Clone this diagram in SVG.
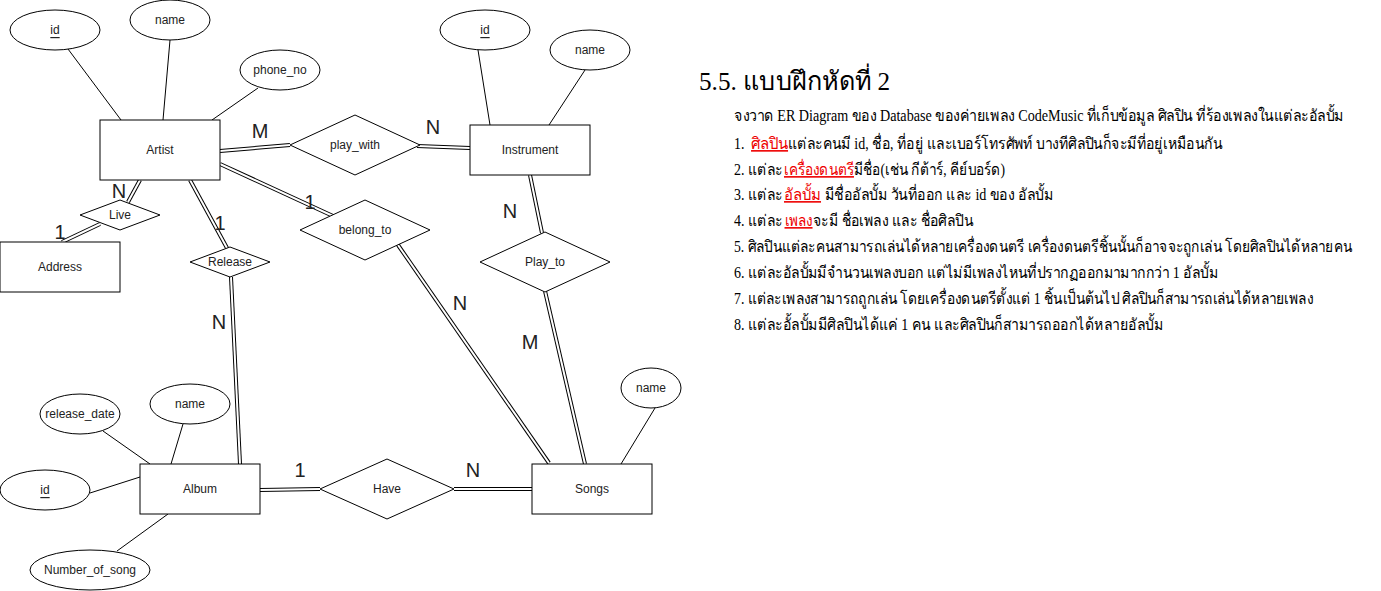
<svg xmlns="http://www.w3.org/2000/svg" width="1381" height="591" viewBox="0 0 1381 591">
<style>
.box{fill:#fff;stroke:#000;stroke-width:1}
.lbl{font-family:"Liberation Sans",Arial,sans-serif;font-size:12px;fill:#222;text-anchor:middle;dominant-baseline:central}
.u{text-decoration:underline}
.card{font-family:"Liberation Sans",Arial,sans-serif;font-size:20px;fill:#222;text-anchor:middle;dominant-baseline:central}
.att{stroke:#000;stroke-width:1;fill:none}
.lk{stroke:#000;stroke-width:4;fill:none}
.lk2{stroke:#fff;stroke-width:2;fill:none}
.th{font-family:"Liberation Serif","Times New Roman",serif;fill:#000}
.body{font-size:16px}
.red{fill:#e00;text-decoration:underline}
</style>
<rect width="1381" height="591" fill="#fff"/>
<g id="connectors">
  <line class="att" x1="68" y1="49" x2="121" y2="120"/>
  <line class="att" x1="170" y1="40" x2="163" y2="120"/>
  <line class="att" x1="258" y1="88" x2="212" y2="120"/>
  <line class="att" x1="478" y1="50" x2="490" y2="125"/>
  <line class="att" x1="585" y1="70" x2="549" y2="125"/>
  <line class="att" x1="103" y1="431" x2="150" y2="464"/>
  <line class="att" x1="183" y1="424" x2="171" y2="464"/>
  <line class="att" x1="90" y1="493" x2="140" y2="477"/>
  <line class="att" x1="117" y1="551" x2="168" y2="514"/>
  <line class="att" x1="655" y1="408" x2="621" y2="464"/>
  <g id="e-artist-live"><line class="lk" x1="140" y1="180" x2="128" y2="202"/><line class="lk2" x1="140" y1="180" x2="128" y2="202"/></g>
  <g id="e-live-address"><line class="lk" x1="100" y1="224" x2="62" y2="242"/><line class="lk2" x1="100" y1="224" x2="62" y2="242"/></g>
  <g id="e-artist-release"><line class="lk" x1="190" y1="180" x2="227" y2="248"/><line class="lk2" x1="190" y1="180" x2="227" y2="248"/></g>
  <g id="e-release-album"><line class="lk" x1="231" y1="277" x2="240" y2="464"/><line class="lk2" x1="231" y1="277" x2="240" y2="464"/></g>
  <g id="e-artist-playwith"><line class="lk" x1="220" y1="151" x2="290" y2="145"/><line class="lk2" x1="220" y1="151" x2="290" y2="145"/></g>
  <g id="e-playwith-instrument"><line class="lk" x1="417" y1="146" x2="470" y2="148"/><line class="lk2" x1="417" y1="146" x2="470" y2="148"/></g>
  <g id="e-artist-belong"><line class="lk" x1="220" y1="164" x2="333" y2="216"/><line class="lk2" x1="220" y1="164" x2="333" y2="216"/></g>
  <g id="e-belong-songs"><line class="lk" x1="398" y1="245" x2="549" y2="463"/><line class="lk2" x1="398" y1="245" x2="549" y2="463"/></g>
  <g id="e-instrument-playto"><line class="lk" x1="530" y1="175" x2="542" y2="233"/><line class="lk2" x1="530" y1="175" x2="542" y2="233"/></g>
  <g id="e-playto-songs"><line class="lk" x1="545" y1="291" x2="585" y2="464"/><line class="lk2" x1="545" y1="291" x2="585" y2="464"/></g>
  <g id="e-album-have"><line class="lk" x1="260" y1="490" x2="320" y2="489"/><line class="lk2" x1="260" y1="490" x2="320" y2="489"/></g>
  <g id="e-have-songs"><line class="lk" x1="454" y1="489" x2="532" y2="489"/><line class="lk2" x1="454" y1="489" x2="532" y2="489"/></g>
  <text class="card" x="260" y="131">M</text>
  <text class="card" x="433" y="127">N</text>
  <text class="card" x="119" y="191">N</text>
  <text class="card" x="60" y="232">1</text>
  <text class="card" x="220" y="223">1</text>
  <text class="card" x="219" y="322">N</text>
  <text class="card" x="310" y="202">1</text>
  <text class="card" x="460" y="303">N</text>
  <text class="card" x="510" y="211">N</text>
  <text class="card" x="530" y="342">M</text>
  <text class="card" x="300" y="470">1</text>
  <text class="card" x="473" y="470">N</text>
</g>
<g id="artist-id"><ellipse class="box" cx="55" cy="30" rx="45" ry="20"/><text class="lbl u" x="55" y="30">id</text></g>
<g id="artist-name"><ellipse class="box" cx="170" cy="20" rx="40" ry="20"/><text class="lbl" x="170" y="20">name</text></g>
<g id="artist-phone"><ellipse class="box" cx="280" cy="70" rx="40" ry="20"/><text class="lbl" x="280" y="70">phone_no</text></g>
<g id="artist"><rect class="box" x="100" y="120" width="120" height="60"/><text class="lbl" x="160" y="150">Artist</text></g>
<g id="live"><polygon class="box" points="120,200 160,215 120,230 80,215"/><text class="lbl" x="120" y="215">Live</text></g>
<g id="address"><rect class="box" x="0" y="242" width="120" height="50"/><text class="lbl" x="60" y="267">Address</text></g>
<g id="release"><polygon class="box" points="230,247 270,262 230,277 190,262"/><text class="lbl" x="230" y="262">Release</text></g>
<g id="play_with"><polygon class="box" points="355,115 420,145 355,175 290,145"/><text class="lbl" x="355" y="145">play_with</text></g>
<g id="belong_to"><polygon class="box" points="365,200 430,230 365,260 300,230"/><text class="lbl" x="365" y="230">belong_to</text></g>
<g id="instrument-id"><ellipse class="box" cx="485" cy="30" rx="45" ry="20"/><text class="lbl u" x="485" y="30">id</text></g>
<g id="instrument-name"><ellipse class="box" cx="590" cy="50" rx="40" ry="20"/><text class="lbl" x="590" y="50">name</text></g>
<g id="instrument"><rect class="box" x="470" y="125" width="120" height="50"/><text class="lbl" x="530" y="150">Instrument</text></g>
<g id="play_to"><polygon class="box" points="545,232 610,262 545,292 480,262"/><text class="lbl" x="545" y="262">Play_to</text></g>
<g id="album-release_date"><ellipse class="box" cx="80" cy="414" rx="40" ry="20"/><text class="lbl" x="80" y="414">release_date</text></g>
<g id="album-name"><ellipse class="box" cx="190" cy="404" rx="40" ry="20"/><text class="lbl" x="190" y="404">name</text></g>
<g id="album-id"><ellipse class="box" cx="45" cy="490" rx="45" ry="20"/><text class="lbl u" x="45" y="490">id</text></g>
<g id="album-number_of_song"><ellipse class="box" cx="90" cy="570" rx="60" ry="20"/><text class="lbl" x="90" y="570">Number_of_song</text></g>
<g id="album"><rect class="box" x="140" y="464" width="120" height="50"/><text class="lbl" x="200" y="489">Album</text></g>
<g id="have"><polygon class="box" points="387,459 454,489 387,519 320,489"/><text class="lbl" x="387" y="489">Have</text></g>
<g id="songs-name"><ellipse class="box" cx="651" cy="388" rx="30" ry="20"/><text class="lbl" x="651" y="388">name</text></g>
<g id="songs"><rect class="box" x="532" y="464" width="120" height="50"/><text class="lbl" x="592" y="489">Songs</text></g>
<g id="exercise">
  <text class="th" transform="translate(699,90) scale(0.91,1)" x="0" y="0" font-size="26" textLength="210" lengthAdjust="spacingAndGlyphs">5.5. แบบฝึกหัดที่ 2</text>
  <g transform="translate(734,0) scale(0.865,1)">
    <text class="th body" x="0" y="121" textLength="705" lengthAdjust="spacingAndGlyphs">จงวาด ER Diagram ของ Database ของค่ายเพลง CodeMusic ที่เก็บข้อมูล ศิลปิน ที่ร้องเพลงในแต่ละอัลบั้ม</text>
    <text class="th body" x="0" y="149">1.</text>
    <text class="th body red" x="19.7" y="149" textLength="42.8" lengthAdjust="spacingAndGlyphs">ศิลปิน</text>
    <text class="th body" x="62.4" y="149" textLength="501.7" lengthAdjust="spacingAndGlyphs">แต่ละคนมี id, ชื่อ, ที่อยู่ และเบอร์โทรศัพท์ บางทีศิลปินก็จะมีที่อยู่เหมือนกัน</text>
    <text class="th body" x="0" y="175" textLength="56" lengthAdjust="spacingAndGlyphs">2. แต่ละ</text>
    <text class="th body red" x="57.8" y="175" textLength="80.9" lengthAdjust="spacingAndGlyphs">เครื่องดนตรี</text>
    <text class="th body" x="138.7" y="175" textLength="174.6" lengthAdjust="spacingAndGlyphs">มีชื่อ(เช่น กีต้าร์, คีย์บอร์ด)</text>
    <text class="th body" x="0" y="200" textLength="56" lengthAdjust="spacingAndGlyphs">3. แต่ละ</text>
    <text class="th body red" x="57.8" y="200" textLength="42.8" lengthAdjust="spacingAndGlyphs">อัลบั้ม</text>
    <text class="th body" x="105.2" y="200" textLength="263.6" lengthAdjust="spacingAndGlyphs">มีชื่ออัลบั้ม วันที่ออก และ id ของ อัลบั้ม</text>
    <text class="th body" x="0" y="226" textLength="56" lengthAdjust="spacingAndGlyphs">4. แต่ละ</text>
    <text class="th body red" x="58.4" y="226" textLength="32.4" lengthAdjust="spacingAndGlyphs">เพลง</text>
    <text class="th body" x="91.3" y="226" textLength="185" lengthAdjust="spacingAndGlyphs">จะมี ชื่อเพลง และ ชื่อศิลปิน</text>
    <text class="th body" x="0" y="252" textLength="714.5" lengthAdjust="spacingAndGlyphs">5. ศิลปินแต่ละคนสามารถเล่นได้หลายเครื่องดนตรี เครื่องดนตรีชิ้นนั้นก็อาจจะถูกเล่น โดยศิลปินได้หลายคน</text>
    <text class="th body" x="0" y="278" textLength="559.5" lengthAdjust="spacingAndGlyphs">6. แต่ละอัลบั้มมีจำนวนเพลงบอก แต่ไม่มีเพลงไหนที่ปรากฏออกมามากกว่า 1 อัลบั้ม</text>
    <text class="th body" x="0" y="304" textLength="669.4" lengthAdjust="spacingAndGlyphs">7. แต่ละเพลงสามารถถูกเล่น โดยเครื่องดนตรีตั้งแต่ 1 ชิ้นเป็นต้นไป ศิลปินก็สามารถเล่นได้หลายเพลง</text>
    <text class="th body" x="0" y="330" textLength="496" lengthAdjust="spacingAndGlyphs">8. แต่ละอั้ลบั้มมีศิลปินได้แค่ 1 คน และศิลปินก็สามารถออกได้หลายอัลบั้ม</text>
  </g>
</g>
</svg>
